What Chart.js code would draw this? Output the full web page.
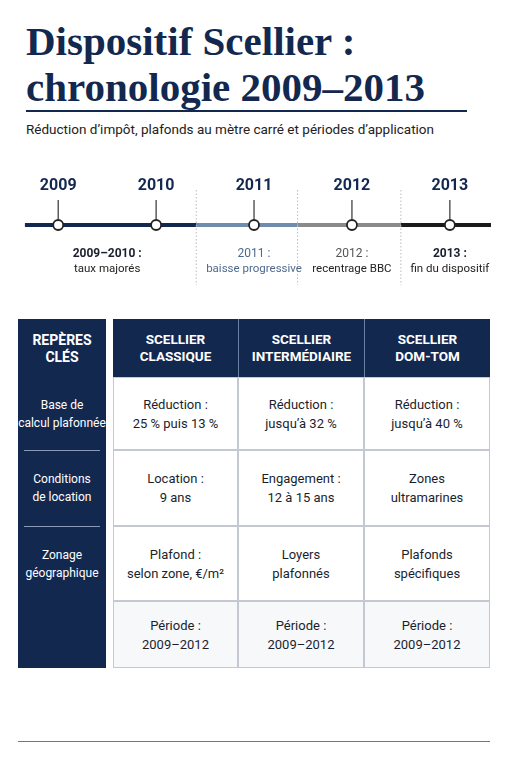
<!DOCTYPE html>
<html><head><meta charset="utf-8">
<script src="https://cdn.jsdelivr.net/npm/chart.js@4"></script>
<style>
body{margin:0;width:511px;height:768px;background:#fff;font-family:Roboto,"Liberation Sans",sans-serif;position:relative;overflow:hidden;color:#1a1f2e}
h1{position:absolute;left:26px;top:18px;margin:0;font-family:"Liberation Serif",serif;font-weight:bold;font-size:41px;line-height:46px;color:#13284f;white-space:nowrap}
.rule{position:absolute;left:26px;width:441px;top:110px;height:1.5px;background:#13284f}
.sub{position:absolute;left:26px;top:121px;font-size:13.5px;color:#222;white-space:nowrap}
#tl{position:absolute;left:0;top:160px}
.cell{position:absolute;display:flex;align-items:center;justify-content:center;text-align:center;font-size:13px;line-height:19px;box-sizing:border-box}
.bot{position:absolute;left:18px;width:472px;top:741px;height:1px;background:#777}
</style></head><body>
<h1>Dispositif Scellier :<br>chronologie 2009–2013</h1>
<div class="rule"></div>
<div class="sub">Réduction d’impôt, plafonds au mètre carré et périodes d’application</div>
<canvas id="tl" width="511" height="130"></canvas>
<div id="tbl"></div>
<div class="bot"></div>
<script>
const years=[2009,2010,2011,2012,2013];
const periodBounds=[2008.66,2010.41,2011.445,2012.5,2013.42];
const periodColors=['#13284f','#6f8cae','#8a8a8a','#1a1a1a'];
const periodTitles=['2009–2010 :','2011 :','2012 :','2013 :'];
const periodTexts=['taux majorés','baisse progressive','recentrage BBC','fin du dispositif'];
const periodTitleColors=['#1a1f2e','#4d6a8e','#555','#1a1f2e'];
const periodCenters=[2009.5,2011,2012,2013];

const columns=['SCELLIER<br>CLASSIQUE','SCELLIER<br>INTERMÉDIAIRE','SCELLIER<br>DOM-TOM'];
const rowLabels=['Base de<br>calcul plafonnée','Conditions<br>de location','Zonage<br>géographique',''];
const rowClassique=['Réduction :<br>25 % puis 13 %','Location :<br>9 ans','Plafond :<br>selon zone, €/m²','Période :<br>2009–2012'];
const rowInter=['Réduction :<br>jusqu’à 32 %','Engagement :<br>12 à 15 ans','Loyers<br>plafonnés','Période :<br>2009–2012'];
const rowDom=['Réduction :<br>jusqu’à 40 %','Zones<br>ultramarines','Plafonds<br>spécifiques','Période :<br>2009–2012'];

const segs=periodColors.map((c,i)=>({type:'line',data:[{x:periodBounds[i],y:65},{x:periodBounds[i+1],y:65}],borderColor:c,borderWidth:4,pointRadius:0,order:2}));
const pts={type:'line',data:years.map(y=>({x:y,y:65})),showLine:false,pointRadius:5,pointBackgroundColor:'#fff',pointBorderColor:'#222',pointBorderWidth:1.8,order:1};
const deco={id:'deco',afterDatasetsDraw(ch){
 const c=ch.ctx,xs=ch.scales.x;c.save();
 c.textAlign='center';
 years.forEach(y=>{const px=xs.getPixelForValue(y);
  c.fillStyle='#13284f';c.font='bold 16px Roboto';c.fillText(String(y),px,30);
  c.strokeStyle='#333';c.lineWidth=1.2;c.beginPath();c.moveTo(px,40);c.lineTo(px,60);c.stroke();});
 c.setLineDash([1.5,2]);c.strokeStyle='#bbb';c.lineWidth=1;
 periodBounds.slice(1,4).forEach(b=>{const px=xs.getPixelForValue(b);c.beginPath();c.moveTo(px,30);c.lineTo(px,125);c.stroke();});
 c.setLineDash([]);
 periodCenters.forEach((v,i)=>{const px=xs.getPixelForValue(v);
  c.fillStyle=periodTitleColors[i];c.font=(i==0||i==3?'bold ':'')+'12px Roboto';c.fillText(periodTitles[i],px,97);
  c.fillStyle=i==1?'#4d6a8e':'#222';c.font='11.5px Roboto';c.fillText(periodTexts[i],px,112);});
 c.restore();}};
new Chart(document.getElementById('tl'),{data:{datasets:[...segs,pts]},
 options:{responsive:false,animation:false,layout:{padding:0},
  plugins:{legend:{display:false},tooltip:{enabled:false}},
  scales:{x:{type:'linear',min:2008.475,max:2013.555,display:false},y:{min:0,max:130,reverse:true,display:false}}},
 plugins:[deco]});

const T=document.getElementById('tbl');
function cell(l,t,w,h,html,st){const d=document.createElement('div');d.className='cell';Object.assign(d.style,{left:l+'px',top:t+'px',width:w+'px',height:h+'px'},st||{});d.innerHTML=html;T.appendChild(d);return d;}
const rowY=[377,450,526,601,668];
cell(18,319,88,349,'',{background:'#13284f'});
cell(18,320,88,57,'REPÈRES<br>CLÉS',{color:'#fff',fontWeight:'bold',fontSize:'14px',lineHeight:'17px'});
rowLabels.forEach((r,i)=>{cell(18,rowY[i],88,rowY[i+1]-rowY[i],r,{color:'#fff',fontSize:'12px',lineHeight:'18px'});
 if(i<2){const s=document.createElement('div');Object.assign(s.style,{position:'absolute',left:'24px',width:'76px',top:(rowY[i+1])+'px',height:'1px',background:'#8a99b5'});T.appendChild(s);}});
const colX=[113,238,364,490];
cell(113,319,377,58,'',{background:'#13284f'});
columns.forEach((c,i)=>cell(colX[i],319,colX[i+1]-colX[i],58,c,{color:'#fff',fontWeight:'bold',fontSize:'13.5px',lineHeight:'17px',borderLeft:i?'1px solid #6b7fa3':'none'}));
[rowClassique,rowInter,rowDom].forEach((col,ci)=>col.forEach((v,ri)=>cell(colX[ci],rowY[ri],colX[ci+1]-colX[ci],rowY[ri+1]-rowY[ri],v,{border:'0.5px solid #c4c8d0',background:ri==3?'#f7f8fa':'#fff',color:'#1a1f2e'})));
</script>
</body></html>
